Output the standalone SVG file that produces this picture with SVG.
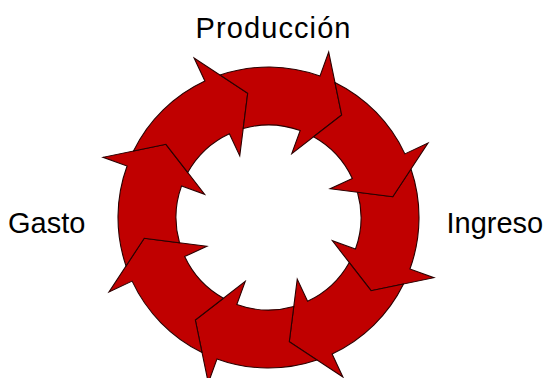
<svg xmlns="http://www.w3.org/2000/svg" xmlns:xlink="http://www.w3.org/1999/xlink" width="544" height="378" viewBox="0 0 544 378">
<style>
.arr{fill:#C00000;stroke:#2a0000;stroke-width:1.1;stroke-linejoin:miter}
.lbl{font-family:"Liberation Sans",Arial,sans-serif;font-size:29px;fill:#000}
</style>
<defs>
<path id="arrow" d="M410.98,169.02 A150.5,150.5 0 0 1 409.93,268.97 L433.89,277.69 L371.08,290.67 L332.40,240.76 L355.42,249.14 A92.5,92.5 0 0 0 357.48,192.23 L392.77,196.71 Z"/>
</defs>
<g id="connectors">
<g id="arrow1"><use xlink:href="#arrow" href="#arrow" class="arr"/></g>
<g id="arrow2"><use xlink:href="#arrow" href="#arrow" class="arr" transform="rotate(45 268.5 217.5)"/></g>
<g id="arrow3"><use xlink:href="#arrow" href="#arrow" class="arr" transform="rotate(90 268.5 217.5)"/></g>
<g id="arrow4"><use xlink:href="#arrow" href="#arrow" class="arr" transform="rotate(135 268.5 217.5)"/></g>
<g id="arrow5"><use xlink:href="#arrow" href="#arrow" class="arr" transform="rotate(180 268.5 217.5)"/></g>
<g id="arrow6"><use xlink:href="#arrow" href="#arrow" class="arr" transform="rotate(225 268.5 217.5)"/></g>
<g id="arrow7"><use xlink:href="#arrow" href="#arrow" class="arr" transform="rotate(270 268.5 217.5)"/></g>
<g id="arrow8"><use xlink:href="#arrow" href="#arrow" class="arr" transform="rotate(315 268.5 217.5)"/></g>
</g>
<g id="produccion"><text class="lbl" x="273" y="38" text-anchor="middle" textLength="155" lengthAdjust="spacing">Producción</text></g>
<g id="ingreso"><text class="lbl" x="446.5" y="233">Ingreso</text></g>
<g id="gasto"><text class="lbl" x="8" y="233">Gasto</text></g>
</svg>
